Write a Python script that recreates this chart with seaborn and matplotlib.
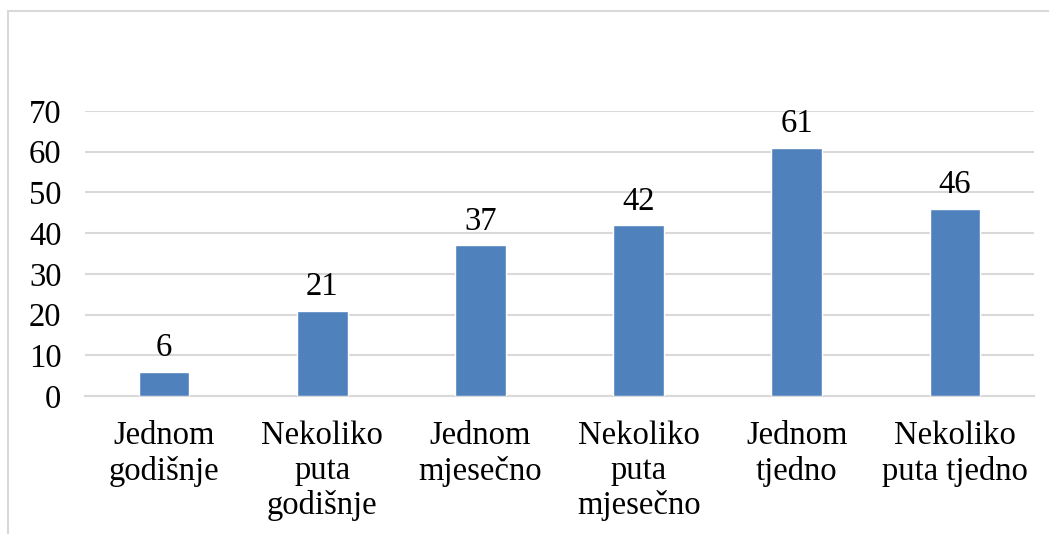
import matplotlib
matplotlib.use("Agg")
import matplotlib.pyplot as plt
import seaborn as sns
import pandas as pd
from matplotlib.patches import Rectangle

categories = ["Jednom\ngodišnje", "Nekoliko\nputa\ngodišnje", "Jednom\nmjesečno",
              "Nekoliko\nputa\nmjesečno", "Jednom\ntjedno", "Nekoliko\nputa tjedno"]
values = [6, 21, 37, 42, 61, 46]
yticks = [0, 10, 20, 30, 40, 50, 60, 70]

sns.set_theme(style="white")
plt.rcParams['font.family'] = ['Liberation Serif', 'DejaVu Serif']
plt.rcParams['text.color'] = 'black'

W, H = 1049, 534
fig = plt.figure(figsize=(W / 100, H / 100), dpi=100)
fig.patches.append(Rectangle((8 / W, -0.1), 1.2, 1 - 11 / H + 0.1, transform=fig.transFigure,
                             fill=False, edgecolor="#d9d9d9", linewidth=1.5))
ax = fig.add_axes([85 / W, 1 - 396 / H, (1034 - 85) / W, (396 - 111) / H])

df = pd.DataFrame({"cat": categories, "val": values})
sns.barplot(data=df, x="cat", y="val", color="#4f81bd", saturation=1, width=0.32, ax=ax, zorder=3)

ax.set_ylim(0, 70)
ax.set_xlim(-0.5, len(categories) - 0.5)
ax.set_yticks(yticks)
ax.yaxis.grid(True, color="#d9d9d9", linewidth=1.5, zorder=0)
ax.set_axisbelow(True)
for s in ["top", "right", "left"]:
    ax.spines[s].set_visible(False)
ax.spines["bottom"].set_color("#d9d9d9")
ax.spines["bottom"].set_linewidth(1.5)
ax.tick_params(axis="both", length=0, labelsize=23.5, colors="black", labelcolor="black")
ax.tick_params(axis="y", pad=17)
ax.tick_params(axis="x", pad=18)
for lbl in ax.get_xticklabels():
    lbl.set_linespacing(1.17)
ax.set_xlabel("")
ax.set_ylabel("")
for c in ax.containers:
    ax.bar_label(c, fmt="%d", fontsize=23.5, padding=6, color="black")

fig.savefig("out.png", dpi=100)
